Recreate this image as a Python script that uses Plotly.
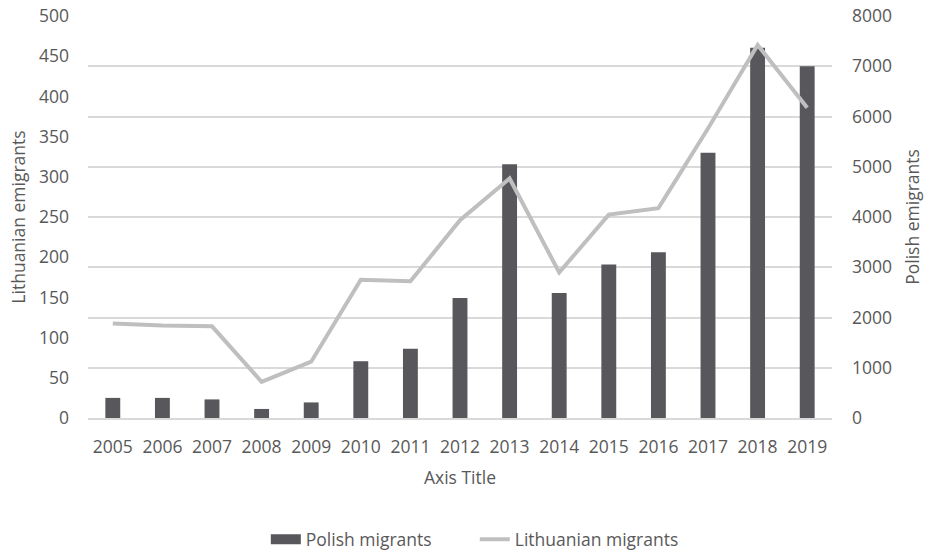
import plotly.graph_objects as go

years = ["2005", "2006", "2007", "2008", "2009", "2010", "2011", "2012",
         "2013", "2014", "2015", "2016", "2017", "2018", "2019"]
polish_migrants = [400, 400, 370, 180, 310, 1130, 1380, 2390,
                   5050, 2490, 3055, 3300, 5280, 7370, 7000]
lithuanian_migrants = [117.5, 115, 114, 45, 70, 172, 170, 246,
                       298, 181, 253, 261, 360, 464, 386]

FONT = "Open Sans"
TEXT = "#595959"
GRID = "#d9d9d9"
BAR = "#58575c"
LINE = "#bfbfbf"
FS = 17.5

fig = go.Figure()
fig.add_trace(go.Bar(
    x=years, y=polish_migrants, name="Polish migrants",
    marker=dict(color=BAR, line=dict(width=0)),
    yaxis="y", showlegend=False,
))
# wide swatch for the bar series in the legend
fig.add_trace(go.Scatter(
    x=[None], y=[None], name="Polish migrants", mode="lines",
    line=dict(color=BAR, width=12), yaxis="y",
))
fig.add_trace(go.Scatter(
    x=years, y=lithuanian_migrants, name="Lithuanian migrants",
    mode="lines", line=dict(color=LINE, width=4),
    yaxis="y2",
))

fig.update_layout(
    width=929, height=552,
    margin=dict(l=88, r=97, t=16, b=133.5, autoexpand=False),
    paper_bgcolor="white", plot_bgcolor="white",
    font=dict(family=FONT, size=FS, color=TEXT),
    bargap=0.7,
    showlegend=True,
    legend=dict(orientation="h", x=0.239, xanchor="left", y=-0.302,
                yanchor="middle", font=dict(size=FS, color=TEXT),
                traceorder="normal", itemwidth=30, entrywidth=164,
                tracegroupgap=0),
    xaxis=dict(
        type="category", showgrid=False, showline=True,
        linecolor=GRID, linewidth=1.5, ticks="", automargin=False,
        tickfont=dict(size=FS, color=TEXT), ticklabelstandoff=12,
        title=dict(text="Axis Title", font=dict(size=FS, color=TEXT), standoff=15),
    ),
    yaxis=dict(
        side="right", range=[0, 8000], dtick=1000,
        showgrid=True, gridcolor=GRID, gridwidth=1.5,
        zeroline=False, showline=False, ticks="", automargin=False,
        tickfont=dict(size=FS, color=TEXT), ticklabelstandoff=19,
        title=dict(text="Polish emigrants", font=dict(size=FS, color=TEXT), standoff=15),
    ),
    yaxis2=dict(
        overlaying="y", side="left", range=[0, 500], dtick=50,
        showgrid=False, zeroline=False, showline=False, ticks="", automargin=False,
        tickfont=dict(size=FS, color=TEXT), ticklabelstandoff=18,
        title=dict(text="Lithuanian emigrants", font=dict(size=FS, color=TEXT), standoff=8),
    ),
)

fig.write_html("out.html")
